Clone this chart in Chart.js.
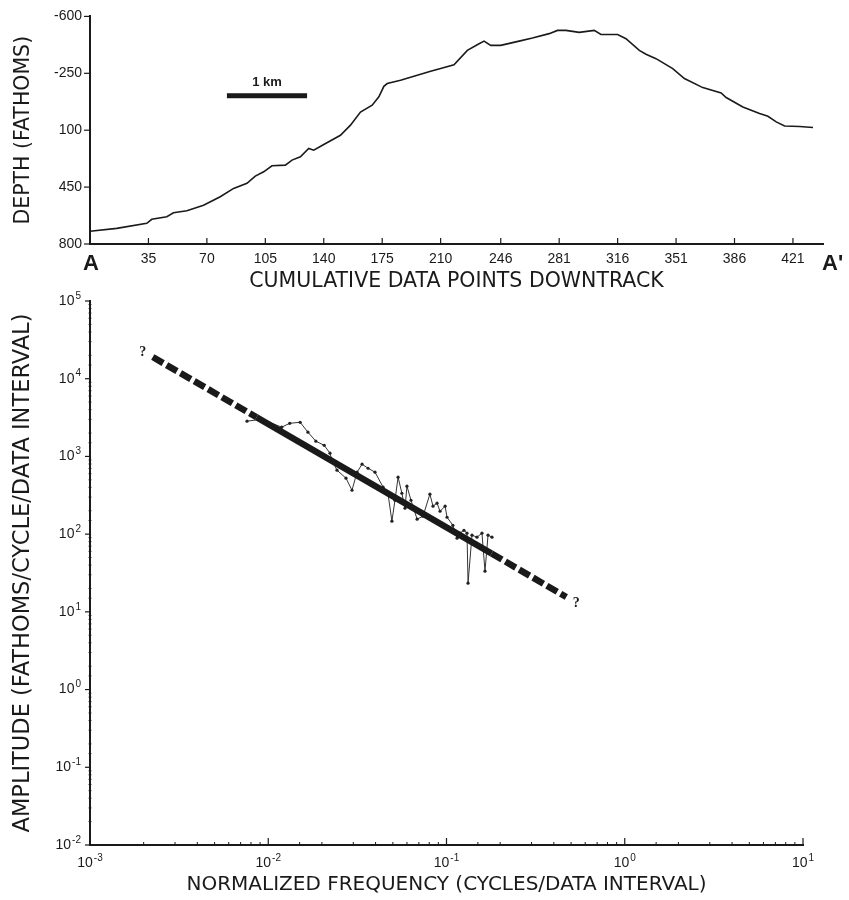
<!DOCTYPE html>
<html>
<head>
<meta charset="utf-8">
<script src="https://cdn.jsdelivr.net/npm/chart.js@4.4.1/dist/chart.umd.min.js"></script>
<style>
  body { margin: 0; background: #fff; }
  #wrap { position: relative; width: 849px; height: 900px; }
  canvas { position: absolute; left: 0; }
  #profile { top: 0; }
  #spectrum { top: 290px; }
</style>
</head>
<body>
<div id="wrap">
  <canvas id="profile" width="849" height="300"></canvas>
  <canvas id="spectrum" width="849" height="610"></canvas>
</div>
<script>
// depth profile A - A'
const profilePoints = [0, 16, 34, 37, 46, 50, 58, 68, 78, 86, 94, 99, 104, 109, 117, 121, 126, 131, 134, 140,
  150, 156, 162, 169, 173, 176, 178, 186, 198, 204, 210, 218, 226, 233, 236, 240, 246, 257, 265, 275,
  280, 285, 293, 302, 306, 316, 321, 329, 333, 339, 349, 356, 367, 378, 381, 391, 401, 406, 411, 416, 425, 433];
const profileDepth = [722, 704, 673, 648, 632, 608, 596, 561, 509, 458, 427, 382, 356, 319, 315, 284, 264, 212, 223, 188,
  131, 69, -12, -54, -105, -170, -187, -207, -244, -262, -279, -303, -391, -432, -448, -422, -422, -448, -467, -494,
  -514, -514, -502, -514, -489, -489, -463, -391, -367, -340, -279, -218, -162, -129, -101, -43, -2, 14, 49, 74, 77, 83];
const pointTicks = [35, 70, 105, 140, 175, 210, 246, 281, 316, 351, 386, 421];
const depthTicks = [-600, -250, 100, 450, 800];

// amplitude spectrum
const freq = [0.0076, 0.0092, 0.0119, 0.0132, 0.0151, 0.0167, 0.0185, 0.0206, 0.0222, 0.0228,
  0.0243, 0.0273, 0.0295, 0.0315, 0.0336, 0.0363, 0.0397, 0.0441, 0.047, 0.0494,
  0.0514, 0.0535, 0.0562, 0.0585, 0.06, 0.0632, 0.0684, 0.0738, 0.0807, 0.084,
  0.0885, 0.092, 0.0982, 0.1007, 0.1086, 0.1146, 0.1191, 0.1253, 0.1303, 0.1321,
  0.139, 0.1483, 0.1581, 0.1644, 0.171, 0.18];
const amplitude = [2840, 3010, 2380, 2670, 2750, 2050, 1570, 1390, 1100, 893,
  665, 525, 367, 627, 794, 705, 627, 402, 327, 147,
  273, 541, 336, 216, 414, 273, 156, 170, 327, 229,
  250, 197, 229, 165, 130, 88.7, 103, 112, 103, 23.4,
  97, 91.4, 103, 33.4, 97, 91.4];
// fitted line: dashed - solid - dashed
const fitFreq = [0.00225, 0.0086, 0.179, 0.47];
const fitAmp = [19000, 3190, 56.4, 15.5];

const INK = "#1a1a1a";
const FONT = "'Liberation Sans', 'DejaVu Sans', sans-serif";
const TITLE_FONT = "'DejaVu Sans', 'Liberation Sans', sans-serif";

const isPow10 = (v) => {
  const e = Math.log10(v);
  return Math.abs(e - Math.round(e)) < 1e-6;
};

// small tick marks drawn by hand: x ticks point up into the plot, y ticks point left
const tickMarks = {
  id: "tickMarks",
  afterDraw(chart, args, opts) {
    const { ctx, chartArea: area, scales } = chart;
    ctx.save();
    ctx.strokeStyle = INK;
    scales.x.ticks.forEach((t) => {
      const major = opts.isMajor(t.value);
      const px = scales.x.getPixelForValue(t.value);
      ctx.lineWidth = major ? 1.2 : 1;
      ctx.beginPath();
      ctx.moveTo(px, area.bottom);
      ctx.lineTo(px, area.bottom - (major ? opts.xMajor : opts.xMinor));
      ctx.stroke();
    });
    scales.y.ticks.forEach((t) => {
      const major = opts.isMajor(t.value);
      const py = scales.y.getPixelForValue(t.value);
      ctx.lineWidth = major ? 1.2 : 0.8;
      ctx.beginPath();
      ctx.moveTo(area.left + (major ? 0 : opts.yInside || 0), py);
      ctx.lineTo(area.left - (major ? opts.yMajor : opts.yMinor), py);
      ctx.stroke();
    });
    ctx.restore();
  },
};

// "10" with a raised exponent for the log axes
const drawPow10 = (ctx, v, x, y, align) => {
  const e = String(Math.round(Math.log10(v)));
  ctx.font = "14px " + FONT;
  const wBase = ctx.measureText("10").width;
  ctx.font = "10px " + FONT;
  const wExp = ctx.measureText(e).width;
  const total = wBase + 1 + wExp;
  const x0 = align === "right" ? x - total : x - total / 2;
  ctx.textAlign = "left";
  ctx.textBaseline = "middle";
  ctx.font = "14px " + FONT;
  ctx.fillText("10", x0, y);
  ctx.font = "10px " + FONT;
  ctx.fillText(e, x0 + wBase + 1, y - 5);
};

const powLabels = {
  id: "powLabels",
  afterDraw(chart) {
    const { ctx, chartArea: area, scales: { x, y } } = chart;
    ctx.save();
    ctx.fillStyle = INK;
    x.ticks.filter((t) => isPow10(t.value)).forEach((t) => {
      drawPow10(ctx, t.value, x.getPixelForValue(t.value), area.bottom + 18, "center");
    });
    y.ticks.filter((t) => isPow10(t.value)).forEach((t) => {
      drawPow10(ctx, t.value, area.left - 9, y.getPixelForValue(t.value), "right");
    });
    ctx.restore();
  },
};

const scaleBar = { from: 82, to: 130, depth: -112 };

const profileNotes = {
  id: "profileNotes",
  afterDraw(chart) {
    const { ctx, chartArea: a, scales: { x, y } } = chart;
    ctx.save();
    ctx.fillStyle = INK;
    const x0 = x.getPixelForValue(scaleBar.from);
    const x1 = x.getPixelForValue(scaleBar.to);
    const py = y.getPixelForValue(scaleBar.depth);
    ctx.fillRect(x0, py - 2.5, x1 - x0, 5);
    ctx.textAlign = "center";
    ctx.textBaseline = "middle";
    ctx.font = "bold 13px " + FONT;
    ctx.fillText("1 km", (x0 + x1) / 2, py - 13);
    ctx.font = "bold 22px " + FONT;
    ctx.fillText("A", a.left + 1, a.bottom + 20);
    ctx.textAlign = "left";
    ctx.fillText("A'", a.right - 1, a.bottom + 20);
    ctx.restore();
  },
};

const spectrumNotes = {
  id: "spectrumNotes",
  afterDatasetsDraw(chart) {
    const { ctx, scales: { x, y } } = chart;
    const n = fitFreq.length - 1;
    ctx.save();
    ctx.fillStyle = INK;
    ctx.font = "bold 14px 'Liberation Serif', serif";
    ctx.textAlign = "center";
    ctx.textBaseline = "middle";
    ctx.fillText("?", x.getPixelForValue(fitFreq[0]) - 10, y.getPixelForValue(fitAmp[0]) - 5);
    ctx.fillText("?", x.getPixelForValue(fitFreq[n]) + 10, y.getPixelForValue(fitAmp[n]) + 6);
    ctx.restore();
  },
};

const axisTitle = (text, size, padding) => ({
  display: true,
  text,
  color: INK,
  font: { family: TITLE_FONT, size, lineHeight: 1 },
  padding,
});

new Chart(document.getElementById("profile"), {
  type: "line",
  data: {
    datasets: [
      {
        data: profilePoints.map((p, i) => ({ x: p, y: profileDepth[i] })),
        borderColor: INK,
        borderWidth: 1.6,
        pointRadius: 0,
        tension: 0,
      },
    ],
  },
  options: {
    responsive: false,
    animation: false,
    layout: { padding: { top: 16, right: 26, left: 0, bottom: 0 } },
    plugins: { legend: { display: false }, tooltip: { enabled: false }, tickMarks: { isMajor: () => true, xMajor: 6, xMinor: 6, yMajor: 6, yMinor: 6 } },
    scales: {
      x: {
        type: "linear",
        min: 0,
        max: 439,
        afterBuildTicks: (s) => { s.ticks = pointTicks.map((v) => ({ value: v })); },
        afterFit: (s) => { s.height = 56; },
        grid: { display: false, drawTicks: false },
        border: { display: true, color: INK, width: 2 },
        ticks: { color: INK, font: { family: FONT, size: 14 }, padding: 7, maxRotation: 0, autoSkip: false },
        title: axisTitle("CUMULATIVE DATA POINTS DOWNTRACK", 20.5, { top: 0, bottom: 8 }),
      },
      y: {
        reverse: true,
        min: -600,
        max: 800,
        afterBuildTicks: (s) => { s.ticks = depthTicks.map((v) => ({ value: v })); },
        afterFit: (s) => { s.width = 90; },
        grid: { display: false, drawTicks: false },
        border: { display: true, color: INK, width: 2 },
        ticks: { color: INK, font: { family: FONT, size: 14 }, padding: 8 },
        title: axisTitle("DEPTH (FATHOMS)", 20.5, { top: 13, bottom: 0 }),
      },
    },
  },
  plugins: [tickMarks, profileNotes],
});

const fitSegment = (from, to, dash) => ({
  data: fitFreq.slice(from, to + 1).map((f, i) => ({ x: f, y: fitAmp[from + i] })),
  borderColor: INK,
  borderWidth: 6.5,
  borderDash: dash,
  borderCapStyle: "butt",
  pointRadius: 0,
});

new Chart(document.getElementById("spectrum"), {
  type: "line",
  data: {
    datasets: [
      fitSegment(0, 1, [12, 4]),
      fitSegment(1, 2, []),
      fitSegment(2, 3, [12, 4]),
      {
        data: freq.map((f, i) => ({ x: f, y: amplitude[i] })),
        borderColor: "#333",
        borderWidth: 1,
        pointRadius: 1.6,
        pointBackgroundColor: "#222",
        pointBorderWidth: 0,
        tension: 0,
      },
    ],
  },
  options: {
    responsive: false,
    animation: false,
    layout: { padding: { top: 11, right: 46, left: 0, bottom: 0 } },
    plugins: {
      legend: { display: false },
      tooltip: { enabled: false },
      tickMarks: { isMajor: isPow10, xMajor: 7, xMinor: 3, yMajor: 5, yMinor: 1.5, yInside: 1.5 },
    },
    scales: {
      x: {
        type: "logarithmic",
        min: 0.001,
        max: 10,
        afterFit: (s) => { s.height = 55; },
        grid: { display: false, drawTicks: false },
        border: { display: true, color: INK, width: 2 },
        ticks: { display: false },
        title: axisTitle("NORMALIZED FREQUENCY (CYCLES/DATA INTERVAL)", 20, { top: 0, bottom: 5 }),
      },
      y: {
        type: "logarithmic",
        min: 0.01,
        max: 100000,
        afterFit: (s) => { s.width = 90; },
        grid: { display: false, drawTicks: false },
        border: { display: true, color: INK, width: 2 },
        ticks: { display: false },
        title: axisTitle("AMPLITUDE (FATHOMS/CYCLE/DATA INTERVAL)", 22.5, { top: 12, bottom: 0 }),
      },
    },
  },
  plugins: [tickMarks, powLabels, spectrumNotes],
});
</script>
</body>
</html>
